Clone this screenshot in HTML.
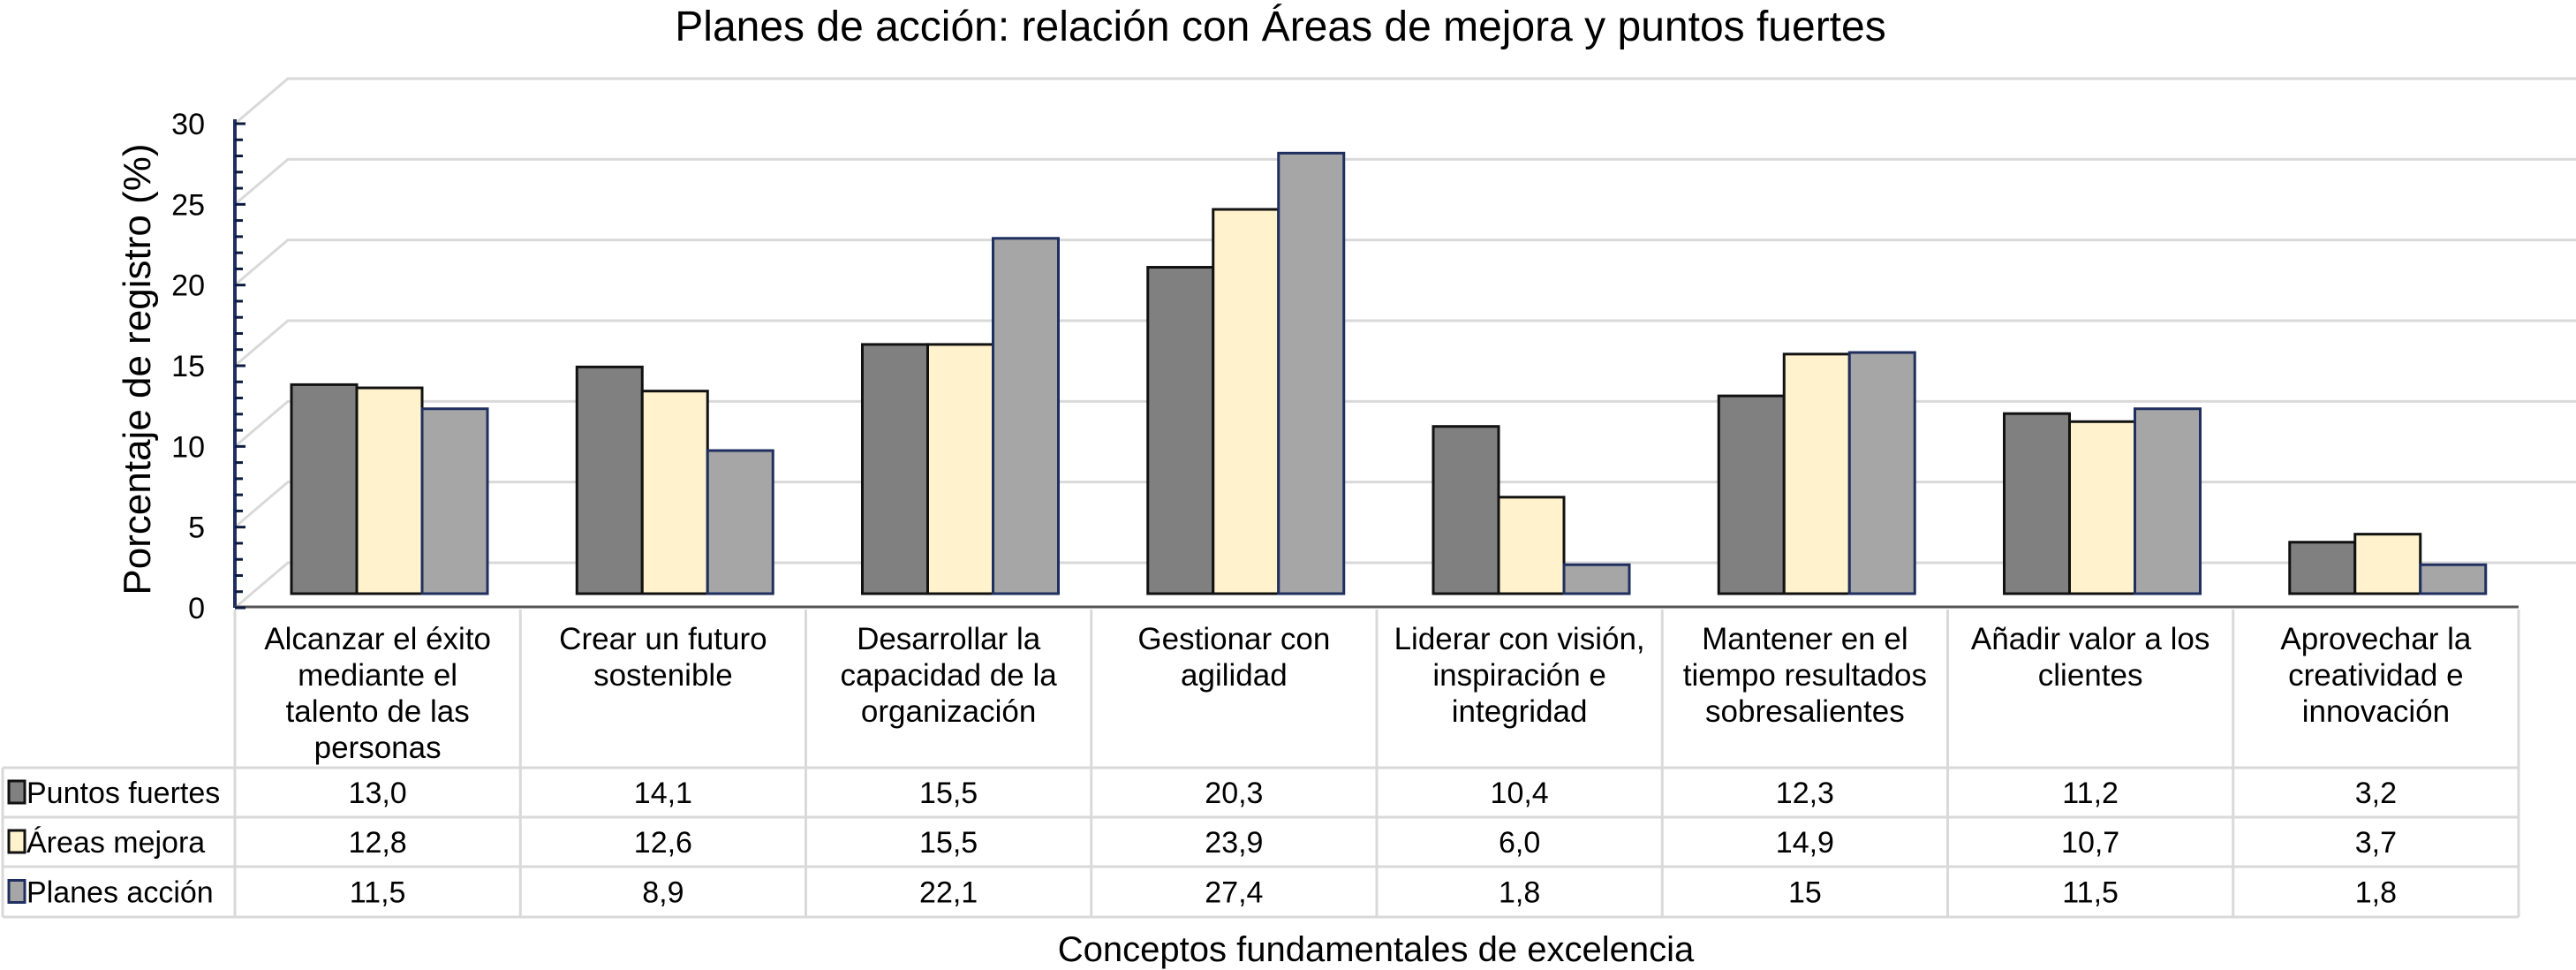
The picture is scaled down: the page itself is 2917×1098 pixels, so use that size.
<!DOCTYPE html>
<html><head><meta charset="utf-8"><style>
html,body{margin:0;padding:0;background:#fff;overflow:hidden;}
svg{display:block;font-family:"Liberation Sans",Arial,sans-serif;}
</style></head><body>
<svg id="chart" width="2917" height="1098" viewBox="0 0 2917 1098" xmlns="http://www.w3.org/2000/svg">
<text x="1450" y="46" font-size="48" text-anchor="middle">Planes de acción: relación con Áreas de mejora y puntos fuertes</text>
<text transform="translate(170,418) rotate(-90)" font-size="44" text-anchor="middle">Porcentaje de registro (%)</text>
<text x="1558" y="1088" font-size="40" text-anchor="middle">Conceptos fundamentales de excelencia</text>
<g id="grid"></g><g id="bars"></g><g id="axis"></g><g id="table"></g>
</svg>
<script>
const categories=[["Alcanzar el éxito","mediante el","talento de las","personas"],["Crear un futuro","sostenible"],["Desarrollar la","capacidad de la","organización"],["Gestionar con","agilidad"],["Liderar con visión,","inspiración e","integridad"],["Mantener en el","tiempo resultados","sobresalientes"],["Añadir valor a los","clientes"],["Aprovechar la","creatividad e","innovación"]];
const seriesNames=["Puntos fuertes","Áreas mejora","Planes acción"];
const puntosFuertes=[13.0,14.1,15.5,20.3,10.4,12.3,11.2,3.2];
const areasMejora=[12.8,12.6,15.5,23.9,6.0,14.9,10.7,3.7];
const planesAccion=[11.5,8.9,22.1,27.4,1.8,15,11.5,1.8];
const printedPF=["13,0","14,1","15,5","20,3","10,4","12,3","11,2","3,2"];
const printedAM=["12,8","12,6","15,5","23,9","6,0","14,9","10,7","3,7"];
const printedPA=["11,5","8,9","22,1","27,4","1,8","15","11,5","1,8"];
const yTicks=[0,5,10,15,20,25,30];

const NS="http://www.w3.org/2000/svg";
function mk(tag,attrs,parent){const e=document.createElementNS(NS,tag);for(const k in attrs)e.setAttribute(k,attrs[k]);parent.appendChild(e);return e;}
const axX=266, y0=688, y30=140, dx=60, dy=51, right=2917;
const yFront=v=>y0-(v/30)*(y0-y30);
const base=672, unit=18.2;
const yBar=v=>base-v*unit;
const colX0=266, colW=323.25;
const xCol=i=>colX0+i*colW;

const grid=document.getElementById('grid');
yTicks.forEach(t=>{
  const yf=yFront(t);
  const g=mk('polyline',{points:`${axX},${yf} ${axX+dx},${yf-dy} ${right},${yf-dy}`,fill:'none',stroke:'#d9d9d9','stroke-width':3},grid);
  
  
});

const barsG=document.getElementById('bars');
const series=[puntosFuertes,areasMejora,planesAccion];
const fills=['#808080','#fff2cc','#a6a6a6'];
const strokes=['#111','#111','#1f2f5f'];
const bw=74;
categories.forEach((c,i)=>{
  series.forEach((s,k)=>{
    const x=xCol(i)+64+k*bw, y=yBar(s[i]);
    const r=mk('rect',{x:x,y:y,width:bw,height:base-y,fill:fills[k],stroke:strokes[k],'stroke-width':3},barsG);
    
    
  });
});

const ax=document.getElementById('axis');
const al=mk('line',{x1:axX,y1:y30-5,x2:axX,y2:y0,stroke:'#1f2f5f','stroke-width':4},ax);


const bl=mk('line',{x1:axX,y1:y0-1,x2:2852,y2:y0-1,stroke:'#555','stroke-width':3},ax);


for(let v=0;v<=30;v++){
  const y=yFront(v);
  mk('line',{x1:axX,y1:y,x2:axX+(v%5==0?12:9),y2:y,stroke:'#0c1a40','stroke-width':3},ax);
}
yTicks.forEach(t=>{
  const tx=mk('text',{x:232,y:yFront(t)+12,'font-size':34,'text-anchor':'end'},ax);
  tx.textContent=t;
  
  
});

const tb=document.getElementById('table');
const lc='#d9d9d9';
const hTop=y0+2, hBot=869, rows=[869,925,981,1038];
const tableRight=xCol(8);
for(let i=0;i<=8;i++){const x=xCol(i);mk('line',{x1:x,y1:hTop,x2:x,y2:1038,stroke:lc,'stroke-width':3},tb);}
mk('line',{x1:3,y1:hBot,x2:3,y2:1038,stroke:lc,'stroke-width':3},tb);
rows.forEach(y=>mk('line',{x1:3,y1:y,x2:tableRight,y2:y,stroke:lc,'stroke-width':3},tb));
categories.forEach((lines,i)=>{
  const t=mk('text',{x:xCol(i)+colW/2,'font-size':35,'text-anchor':'middle'},tb);
  
  
  lines.forEach((ln,j)=>{const s=mk('tspan',{x:xCol(i)+colW/2,y:735+j*41},t);s.textContent=ln;});
});
const printed=[printedPF,printedAM,printedPA];
printed.forEach((arr,k)=>{
  const yc=(rows[k]+rows[k+1])/2+12;
  const sw=mk('rect',{x:10,y:yc-25,width:18,height:25,fill:fills[k],stroke:strokes[k],'stroke-width':3},tb);
  
  
  const lt=mk('text',{x:30,y:yc,'font-size':34},tb);
  lt.textContent=seriesNames[k];
  
  
  arr.forEach((v,i)=>{
    const t=mk('text',{x:xCol(i)+colW/2,y:yc,'font-size':34,'text-anchor':'middle'},tb);
    t.textContent=v;
    
    
  });
});
</script>
</body></html>
